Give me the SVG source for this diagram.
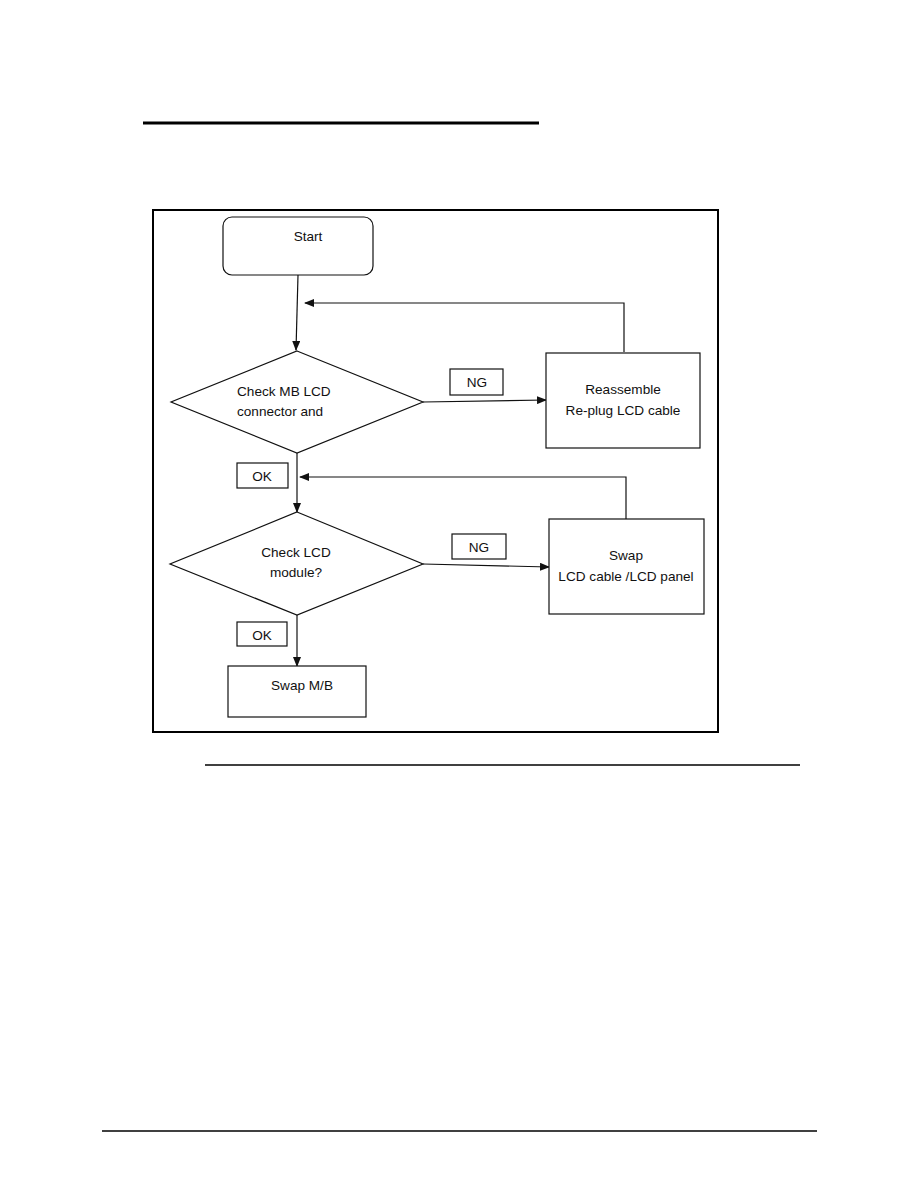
<svg xmlns="http://www.w3.org/2000/svg" width="918" height="1188" viewBox="0 0 918 1188">
<style>
.t{font-family:"Liberation Sans",Arial,sans-serif;font-size:13.6px;fill:#111}
.c{text-anchor:middle}
.n{fill:#fff;stroke:#111;stroke-width:1.2}
.e{fill:none;stroke:#111;stroke-width:1.2}
</style>
<defs>
<marker id="ah" markerWidth="10" markerHeight="8" refX="9" refY="4" orient="auto" markerUnits="userSpaceOnUse">
<path d="M0,0 L10,4 L0,8 z" fill="#111"/>
</marker>
</defs>
<rect width="918" height="1188" fill="#fff"/>
<line x1="143" y1="123" x2="539" y2="123" stroke="#000" stroke-width="3"/>
<rect x="153" y="210" width="565" height="522" fill="none" stroke="#000" stroke-width="2"/>
<line x1="205" y1="765" x2="800" y2="765" stroke="#000" stroke-width="1.5"/>
<line x1="102" y1="1131" x2="817" y2="1131" stroke="#000" stroke-width="1.5"/>

<g id="connectors">
<line class="e" x1="298" y1="275" x2="296" y2="350" marker-end="url(#ah)"/>
<polyline class="e" points="624,352 624,303 305,303" marker-end="url(#ah)"/>
<line class="e" x1="423" y1="402" x2="546" y2="400" marker-end="url(#ah)"/>
<line class="e" x1="297" y1="453" x2="297" y2="512" marker-end="url(#ah)"/>
<polyline class="e" points="626,519 626,477 300,477" marker-end="url(#ah)"/>
<line class="e" x1="423" y1="564" x2="549" y2="567" marker-end="url(#ah)"/>
<line class="e" x1="297" y1="615" x2="297" y2="666" marker-end="url(#ah)"/>
</g>

<g id="start">
<rect class="n" x="223" y="217" width="150" height="58" rx="9"/>
<text class="t c" x="308" y="241">Start</text>
</g>
<g id="check-mb">
<polygon class="n" points="297,351 423,402 297,453 171,402"/>
<text class="t" x="237" y="396">Check MB LCD</text>
<text class="t" x="237" y="416">connector and</text>
</g>
<g id="ng1">
<rect class="n" x="450" y="369" width="53" height="26"/>
<text class="t c" x="477" y="387">NG</text>
</g>
<g id="reassemble">
<rect class="n" x="546" y="353" width="154" height="95"/>
<text class="t c" x="623" y="394">Reassemble</text>
<text class="t c" x="623" y="415">Re-plug LCD cable</text>
</g>
<g id="ok1">
<rect class="n" x="237" y="463" width="51" height="25"/>
<text class="t c" x="262" y="481">OK</text>
</g>
<g id="check-lcd">
<polygon class="n" points="297,512 423,564 297,615 170,564"/>
<text class="t c" x="296" y="557">Check LCD</text>
<text class="t c" x="296" y="577">module?</text>
</g>
<g id="ng2">
<rect class="n" x="452" y="534" width="54" height="25"/>
<text class="t c" x="479" y="552">NG</text>
</g>
<g id="swap">
<rect class="n" x="549" y="519" width="155" height="95"/>
<text class="t c" x="626" y="560">Swap</text>
<text class="t c" x="626" y="581">LCD cable /LCD panel</text>
</g>
<g id="ok2">
<rect class="n" x="237" y="622" width="50" height="24"/>
<text class="t c" x="262" y="640">OK</text>
</g>
<g id="swap-mb">
<rect class="n" x="228" y="666" width="138" height="51"/>
<text class="t c" x="302" y="690">Swap M/B</text>
</g>
</svg>
